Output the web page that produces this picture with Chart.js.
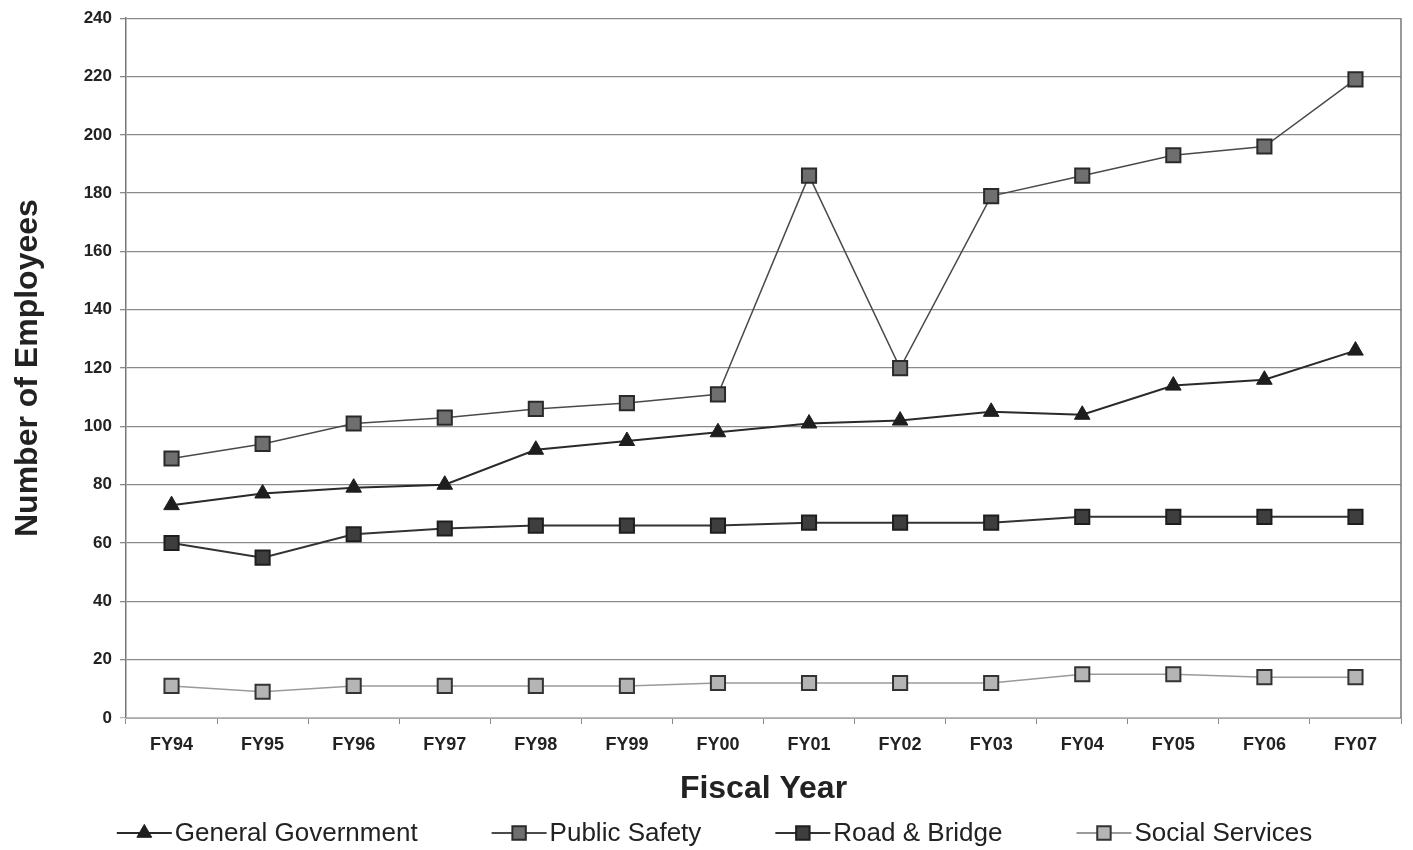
<!DOCTYPE html>
<html>
<head>
<meta charset="utf-8">
<script src="https://cdn.jsdelivr.net/npm/chart.js@4/dist/chart.umd.min.js"></script>
<style>
  html, body { margin: 0; padding: 0; background: #fff; }
  #wrap { width: 1413px; height: 850px; }
</style>
</head>
<body>
<div id="wrap"><canvas id="myChart" width="1413" height="850"></canvas></div>
<script>
var years = ['FY94', 'FY95', 'FY96', 'FY97', 'FY98', 'FY99', 'FY00', 'FY01', 'FY02', 'FY03', 'FY04', 'FY05', 'FY06', 'FY07'];
var generalGov = [73, 77, 79, 80, 92, 95, 98, 101, 102, 105, 104, 114, 116, 126];
var publicSafety = [89, 94, 101, 103, 106, 108, 111, 186, 120, 179, 186, 193, 196, 219];
var roadBridge = [60, 55, 63, 65, 66, 66, 66, 67, 67, 67, 69, 69, 69, 69];
var socialServices = [11, 9, 11, 11, 11, 11, 12, 12, 12, 12, 15, 15, 14, 14];
var seriesNames = ['General Government', 'Public Safety', 'Road & Bridge', 'Social Services'];

var fontFam = '"Liberation Sans", Arial, sans-serif';

// legend drawn by hand: a short line with the marker on it, like the original
var lineLegend = {
  id: 'lineLegend',
  afterDraw: function (chart) {
    var ctx = chart.ctx;
    var y = chart.height - 17;
    var lineW = 55, gap = 3, spacing = 74;
    ctx.save();
    ctx.font = '26px ' + fontFam;
    ctx.textBaseline = 'middle';
    var widths = chart.data.datasets.map(function (ds) {
      return lineW + gap + ctx.measureText(ds.label).width;
    });
    var total = widths.reduce(function (a, b) { return a + b; }, 0) + spacing * (widths.length - 1);
    var x = chart.width / 2 + 8 - total / 2;
    chart.data.datasets.forEach(function (ds, i) {
      ctx.strokeStyle = ds.borderColor;
      ctx.lineWidth = 2;
      ctx.beginPath();
      ctx.moveTo(x, y);
      ctx.lineTo(x + lineW, y);
      ctx.stroke();
      ctx.fillStyle = ds.pointBackgroundColor;
      ctx.strokeStyle = ds.pointBorderColor;
      ctx.lineWidth = ds.pointBorderWidth;
      Chart.helpers.drawPoint(ctx, {
        pointStyle: ds.pointStyle,
        radius: ds.pointRadius * 0.95,
        rotation: 0,
        borderWidth: ds.pointBorderWidth
      }, x + lineW / 2, y);
      ctx.fillStyle = '#222';
      ctx.fillText(ds.label, x + lineW + gap, y + 1);
      x += widths[i] + spacing;
    });
    ctx.restore();
  },
  beforeDatasetsDraw: function (chart) {
    // right border of the plot
    var a = chart.chartArea, ctx = chart.ctx;
    ctx.save();
    ctx.strokeStyle = '#777';
    ctx.lineWidth = 1.5;
    ctx.beginPath();
    ctx.moveTo(a.right, a.top);
    ctx.lineTo(a.right, a.bottom);
    ctx.stroke();
    ctx.restore();
  }
};

var ctx = document.getElementById('myChart').getContext('2d');
var myChart = new Chart(ctx, {
  type: 'line',
  data: {
    labels: years,
    datasets: [{
      label: seriesNames[0],
      data: generalGov,
      borderColor: '#2a2a2a',
      borderWidth: 2,
      pointStyle: 'triangle',
      pointRadius: 9,
      pointBackgroundColor: '#1e1e1e',
      pointBorderColor: '#1e1e1e',
      pointBorderWidth: 1
    },
    {
      label: seriesNames[1],
      data: publicSafety,
      borderColor: '#4a4a4a',
      borderWidth: 1.5,
      pointStyle: 'rect',
      pointRadius: 10,
      pointBackgroundColor: '#6f6f6f',
      pointBorderColor: '#2a2a2a',
      pointBorderWidth: 2
    },
    {
      label: seriesNames[2],
      data: roadBridge,
      borderColor: '#333',
      borderWidth: 2,
      pointStyle: 'rect',
      pointRadius: 10,
      pointBackgroundColor: '#3e3e3e',
      pointBorderColor: '#1e1e1e',
      pointBorderWidth: 2
    },
    {
      label: seriesNames[3],
      data: socialServices,
      borderColor: '#9a9a9a',
      borderWidth: 1.5,
      pointStyle: 'rect',
      pointRadius: 10,
      pointBackgroundColor: '#b5b5b5',
      pointBorderColor: '#333',
      pointBorderWidth: 2
    }]
  },
  options: {
    responsive: false,
    animation: false,
    layout: { padding: { top: 18, right: 0, bottom: 42, left: 0 } },
    plugins: {
      legend: { display: false },
      tooltip: { enabled: false }
    },
    elements: { line: { tension: 0 } },
    scales: {
      x: {
        offset: true,
        grid: { offset: true, drawOnChartArea: false, drawTicks: true, tickLength: 6, color: '#888' },
        border: { color: '#aaa', width: 1 },
        ticks: {
          color: '#222',
          padding: 10,
          font: { family: fontFam, size: 18, weight: 'bold' }
        },
        title: {
          display: true,
          text: 'Fiscal Year',
          color: '#222',
          padding: { top: 4, bottom: 0 },
          font: { family: fontFam, size: 32, weight: 'bold' }
        }
      },
      y: {
        min: 0,
        max: 240,
        afterFit: function (scale) { scale.width = 126; },
        grid: {
          color: function (c) { return c.tick && c.tick.value === 0 ? '#bbb' : '#8a8a8a'; },
          lineWidth: 1.3,
          tickLength: 6
        },
        border: { color: '#777', width: 1.5 },
        ticks: {
          stepSize: 20,
          color: '#222',
          padding: 8,
          font: { family: fontFam, size: 17, weight: 'bold' }
        },
        title: {
          display: true,
          text: 'Number of Employees',
          color: '#222',
          padding: { top: 9, bottom: 0 },
          font: { family: fontFam, size: 32, weight: 'bold' }
        }
      }
    }
  },
  plugins: [lineLegend]
});
</script>
</body>
</html>
